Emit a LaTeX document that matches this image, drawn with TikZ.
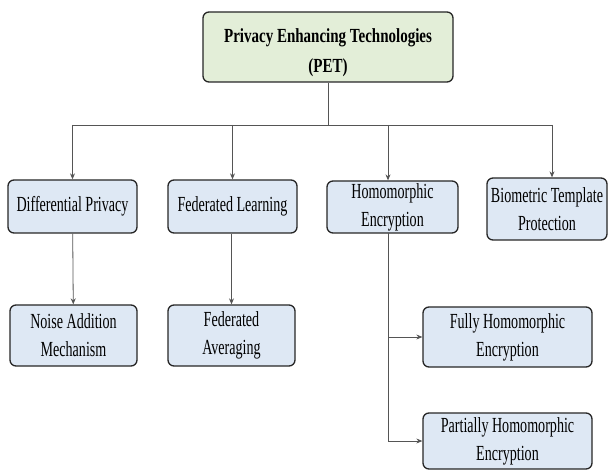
\documentclass[tikz,border=0pt]{standalone}
\usepackage{fontspec}
\setmainfont{Liberation Serif}[FakeStretch=0.655]
\newfontfamily\titlefont{Liberation Serif}[FakeStretch=0.75]
\usetikzlibrary{arrows.meta}
\definecolor{boxblue}{HTML}{DEE8F4}
\definecolor{boxgreen}{HTML}{E3EED8}
\definecolor{linegray}{HTML}{555555}
\tikzset{
  box/.style={draw=black!85, line width=1.3pt, rounded corners=6pt, fill=boxblue,
    align=center, inner sep=0pt, font=\fontsize{21.5}{28}\selectfont},
  topbox/.style={box, fill=boxgreen, font=\titlefont\fontsize{20}{30}\selectfont\bfseries},
  conn/.style={draw=linegray, line width=0.8pt},
  arr/.style={conn, -{Stealth[length=6pt,width=5pt]}}
}
\begin{document}
\begin{tikzpicture}[x=1pt,y=1pt]
\useasboundingbox (0,0) rectangle (613,-470);
\node[topbox, minimum width=250pt, minimum height=70pt] (pet) at (328,-47) {\rule{0pt}{25pt}Privacy Enhancing Technologies\\(PET)};
\node[box, minimum width=129pt, minimum height=53pt] (dp) at (72.5,-206.5) {Differential Privacy};
\node[box, minimum width=129pt, minimum height=53pt] (fl) at (232.5,-206.5) {Federated Learning};
\node[box, minimum width=131pt, minimum height=52pt] (he) at (392.5,-207) {Homomorphic\\Encryption};
\node[box, minimum width=120pt, minimum height=62pt] (bt) at (547,-209) {Biometric Template\\Protection};
\node[box, minimum width=127pt, minimum height=61pt] (na) at (73.5,-335.5) {Noise Addition\\Mechanism};
\node[box, minimum width=127pt, minimum height=61pt] (fa) at (231.5,-335.5) {Federated\\Averaging};
\node[box, minimum width=169pt, minimum height=60pt] (fhe) at (507.5,-337) {Fully Homomorphic\\Encryption};
\node[box, minimum width=169pt, minimum height=56pt] (phe) at (507.5,-441) {Partially Homomorphic\\Encryption};
\coordinate (bus) at (328,-125);
\coordinate (busl) at (72.5,-125);
\coordinate (busr) at (552,-125);
\coordinate (hx) at (388,-233);
\draw[conn] (pet.south) -- (bus);
\draw[conn] (busl) -- (busr);
\draw[arr] (busl) -- (dp.north);
\draw[arr] (fl.north |- bus) -- (fl.north);
\draw[arr] (hx |- bus) -- (hx |- he.north);
\draw[arr] (busr) -- (busr |- bt.north);
\draw[arr] (dp) -- (na);
\draw[arr] (fl.south -| fa.north) -- (fa.north);
\draw[conn] (hx) -- (hx |- phe.west);
\draw[arr] (hx |- fhe.west) -- (fhe.west);
\draw[arr] (hx |- phe.west) -- (phe.west);
\end{tikzpicture}
\end{document}
